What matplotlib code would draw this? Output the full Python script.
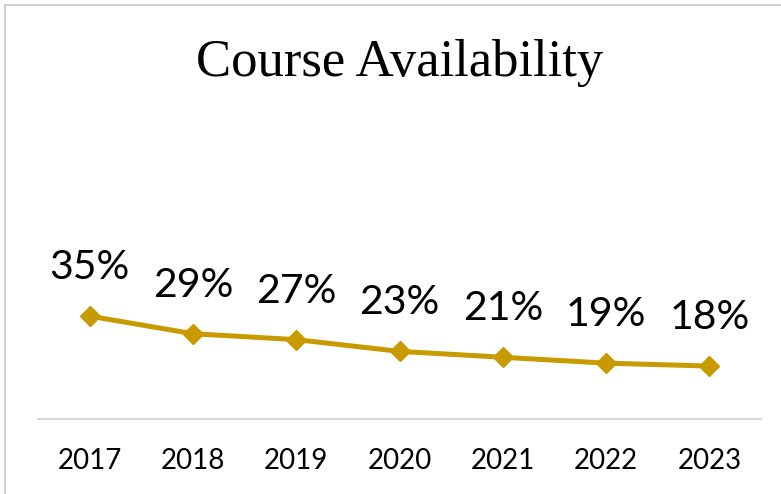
import matplotlib.pyplot as plt
from matplotlib.patches import Rectangle

years = ["2017", "2018", "2019", "2020", "2021", "2022", "2023"]
availability = [0.35, 0.29, 0.27, 0.23, 0.21, 0.19, 0.18]
labels = ["35%", "29%", "27%", "23%", "21%", "19%", "18%"]

gold = "#C99A00"

fig = plt.figure(figsize=(7.81, 4.94), dpi=100)
ax = fig.add_axes([38 / 781, 75 / 494, 723 / 781, 294 / 494])

x = list(range(len(years)))
ax.plot(x, availability, color=gold, linewidth=3.6, marker="D", markersize=10.5,
        solid_capstyle="round", zorder=3)

for xi, yi, lab in zip(x, availability, labels):
    ax.annotate(lab, (xi, yi), xytext=(0, 35), textcoords="offset points",
                ha="center", va="center", fontsize=29.5, family="Lato")

ax.set_xlim(-0.5, len(years) - 0.5)
ax.set_ylim(0, 1.0)
ax.set_xticks(x)
ax.set_xticklabels(years, fontsize=20, family="Lato")
ax.tick_params(axis="x", length=0, pad=21)
ax.set_yticks([])
for side in ["top", "right", "left"]:
    ax.spines[side].set_visible(False)
ax.spines["bottom"].set_color("#d9d9d9")
ax.spines["bottom"].set_linewidth(1.5)

fig.text(0.512, 1 - 63 / 494, "Course Availability", ha="center", va="center",
         fontsize=38, family="Liberation Serif")

# chart border (only top and left edges are visible in the crop)
fig.add_artist(Rectangle((5 / 781, -0.1), 1.2, 1 - 5 / 494 + 0.1,
                         transform=fig.transFigure, fill=False,
                         edgecolor="#d0d0d0", linewidth=1.5))

fig.savefig("out.png", dpi=100)
